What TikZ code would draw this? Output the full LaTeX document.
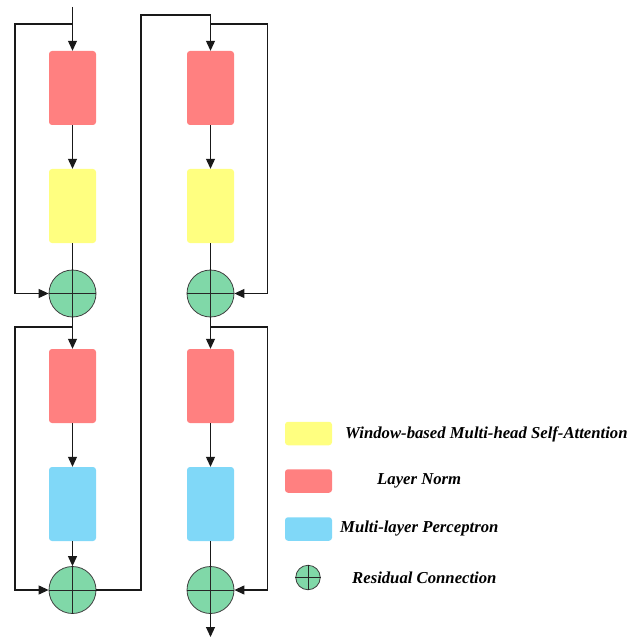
\documentclass[tikz,border=0pt]{standalone}
\usepackage{fontspec}
\setmainfont{Liberation Serif}
\usetikzlibrary{arrows.meta}
\definecolor{lnred}{HTML}{FF8080}
\definecolor{attyel}{HTML}{FFFF80}
\definecolor{mlpblue}{HTML}{80D8F8}
\definecolor{addgreen}{HTML}{80D8A8}
\tikzset{
  blk/.style={rectangle, rounded corners=3pt, minimum width=47pt, minimum height=74pt, inner sep=0pt, draw=none},
  lgbox/.style={rectangle, rounded corners=3pt, minimum width=47pt, minimum height=23.5pt, inner sep=0pt, draw=none},
  addc/.style={circle, fill=addgreen, draw=black!75, line width=0.8pt, minimum size=#1, inner sep=0pt},
  addc/.default=47pt,
  conn/.style={draw=black!90, line width=1.1pt},
  arr/.style={conn, -{Triangle[length=10pt,width=9pt]}},
  lgtext/.style={font=\fontsize{16.7}{19}\selectfont\bfseries\itshape, inner sep=0pt, anchor=west}
}
\newcommand{\pluscross}[1]{\draw[black!85, line width=0.8pt] (#1.north) -- (#1.south) (#1.west) -- (#1.east);}
\begin{document}
\begin{tikzpicture}[x=1pt,y=-1pt]
\useasboundingbox (0,0) rectangle (636,639);
% left column
\node[blk, fill=lnred] (ln1) at (72.5,88) {};
\node[blk, fill=attyel] (wm1) at (72.5,206) {};
\node[addc] (add1) at (72.5,293.5) {};
\node[blk, fill=lnred] (ln2) at (72.5,386) {};
\node[blk, fill=mlpblue] (mlp1) at (72.5,504) {};
\node[addc] (add2) at (72.5,590) {};
% right column
\node[blk, fill=lnred] (ln3) at (210.5,88) {};
\node[blk, fill=attyel] (wm2) at (210.5,206) {};
\node[addc] (add3) at (210.5,293.5) {};
\node[blk, fill=lnred] (ln4) at (210.5,386) {};
\node[blk, fill=mlpblue] (mlp2) at (210.5,504) {};
\node[addc] (add4) at (210.5,590) {};
\pluscross{add1}\pluscross{add2}\pluscross{add3}\pluscross{add4}
\coordinate (in) at (72.5,7);
\coordinate (b1) at (72.5,24);
\coordinate (b2) at (72.5,327);
\coordinate (b3) at (210.5,24);
\coordinate (b4) at (210.5,327);
\coordinate (top) at (141,15);
\coordinate (out) at (210.5,637);
% connectors left column
\draw[arr] (in) -- (ln1.north);
\draw[arr] (b1) -- (15,24) |- (add1.west);
\draw[arr] (ln1) -- (wm1);
\draw[conn] (wm1) -- (add1.north);
\draw[arr] (add1.south) -- (ln2.north);
\draw[arr] (b2) -- (15,327) |- (add2.west);
\draw[arr] (ln2) -- (mlp1);
\draw[arr] (mlp1) -- (add2.north);
\draw[arr] (add2.east) -| (top) -| (ln3.north);
% right column
\draw[arr] (b3) -- (267.5,24) |- (add3.east);
\draw[arr] (ln3) -- (wm2);
\draw[conn] (wm2) -- (add3.north);
\draw[arr] (add3.south) -- (ln4.north);
\draw[arr] (b4) -- (267.5,327) |- (add4.east);
\draw[arr] (ln4) -- (mlp2);
\draw[conn] (mlp2) -- (add4.north);
\draw[arr] (add4.south) -- (out);
% legend
\node[lgbox, fill=attyel] (lg1) at (308.5,433.5) {};
\node[lgbox, fill=lnred] (lg2) at (308.5,481) {};
\node[lgbox, fill=mlpblue] (lg3) at (308.5,529) {};
\node[addc=24.5pt] (lg4) at (308,577.5) {};
\pluscross{lg4}
\node[lgtext] (t1) at (345,434) {Window-based Multi-head Self-Attention};
\node[lgtext] (t2) at (377,481) {Layer Norm};
\node[lgtext] (t3) at (340,529) {Multi-layer Perceptron};
\node[lgtext] (t4) at (352,578) {Residual Connection};
\end{tikzpicture}
\end{document}
